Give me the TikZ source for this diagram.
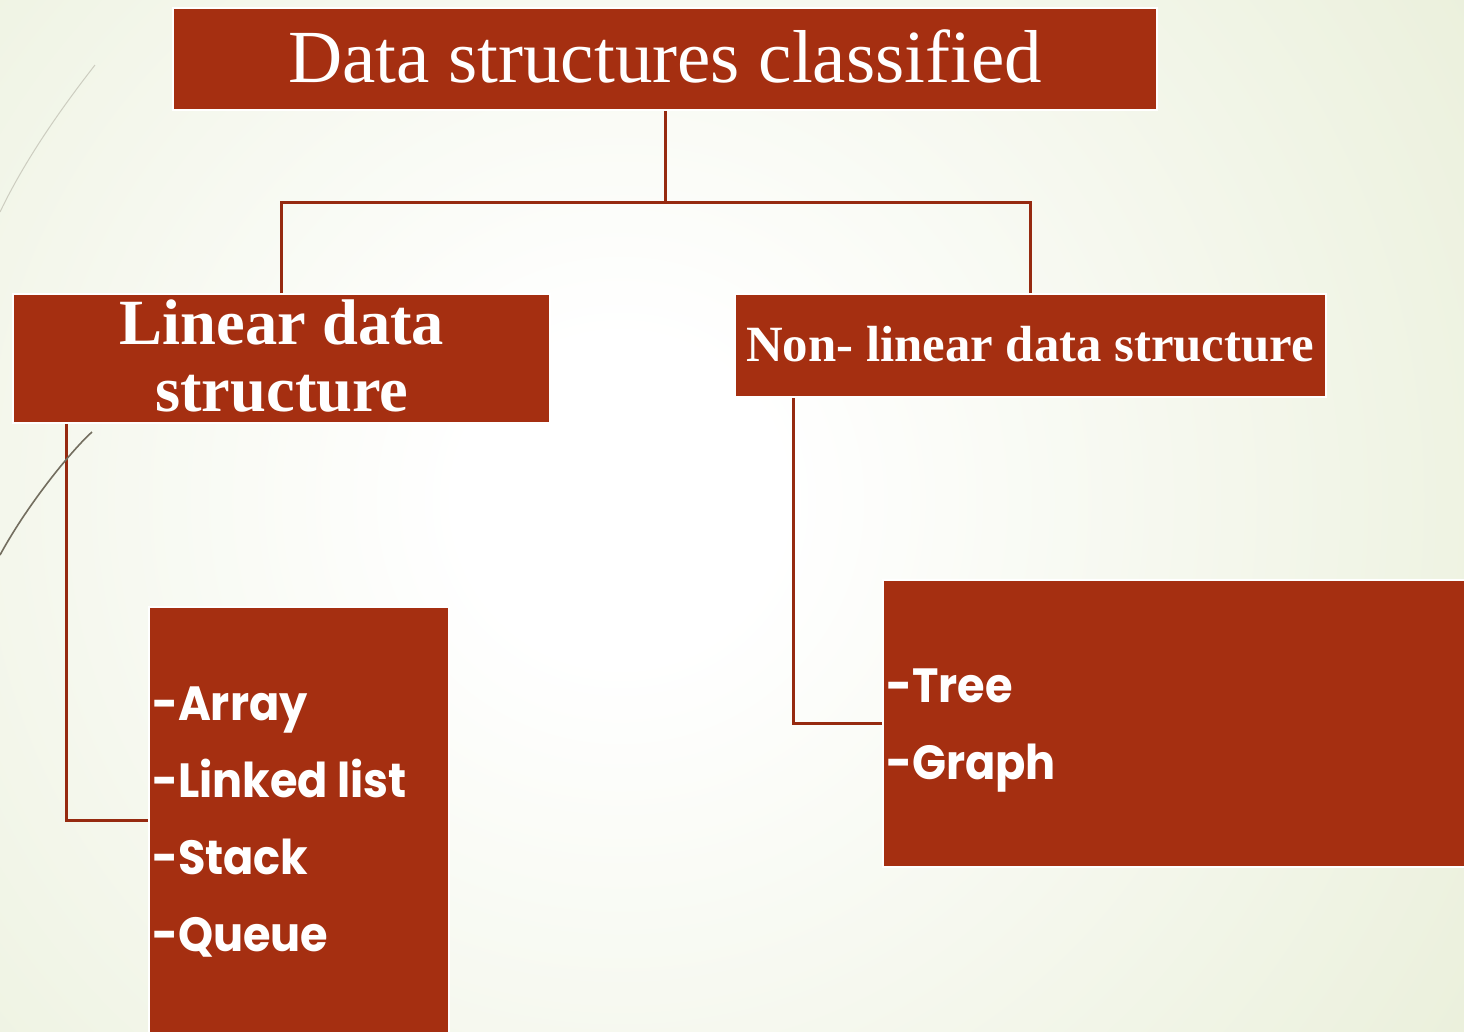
\documentclass[tikz,border=0pt]{standalone}
\usepackage{fontspec}
\setmainfont{Liberation Serif}
\newfontfamily\gothic[FakeStretch=0.93]{Poppins}
\definecolor{boxred}{RGB}{165,47,17}
\definecolor{linkred}{RGB}{150,42,16}
\definecolor{bggreen}{RGB}{228,235,208}
\definecolor{bggreenB}{RGB}{218,228,193}
\definecolor{wispA}{RGB}{205,205,192}
\definecolor{wispB}{RGB}{115,110,95}
\pgfdeclareradialshading{bgshade}{\pgfpoint{0bp}{0bp}}{color(0bp)=(white); color(4bp)=(white); color(32bp)=(bggreen); color(50bp)=(bggreenB)}
\begin{document}
\begin{tikzpicture}[x=1pt,y=-1pt,
  box/.style={draw=white, line width=2pt, fill=boxred, inner sep=0pt},
  link/.style={draw=linkred, line width=3pt},
  ttl/.style={text=white, font=\fontsize{75}{80}\selectfont, anchor=base, inner sep=0pt},
  head/.style={text=white, font=\bfseries\fontsize{64.5}{70}\selectfont, anchor=base, inner sep=0pt},
  subhead/.style={text=white, font=\bfseries\fontsize{50.8}{55}\selectfont, anchor=base, inner sep=0pt},
  item/.style={text=white, font=\gothic\bfseries\fontsize{48}{50}\selectfont, anchor=base west, inner sep=0pt}]
\useasboundingbox (0,0) rectangle (1464,1031);
\begin{scope}
  \clip (0,0) rectangle (1464,1031);
  \shade[shading=bgshade] (620,500) circle (1000);
  \draw[wispA, line width=1pt] (95,65) .. controls (60,110) and (25,160) .. (0,212);
\end{scope}

% boxes
\node[box, minimum width=984pt, minimum height=102pt] (title) at (665,59) {};
\node[box, minimum width=537pt, minimum height=129pt] (linear) at (281.5,358.5) {};
\node[box, minimum width=591pt, minimum height=103pt] (nonlin) at (1030.5,345.5) {};
\node[box, minimum width=300pt, minimum height=437pt] (list) at (298.5,825.5) {};
\node[box, minimum width=591pt, minimum height=287pt] (tree) at (1178.5,723.5) {};

% connectors
\coordinate (split) at (665,202);
\draw[link] (title.south) -- (split);
\draw[link] (linear.north) |- (split) -| (nonlin.north);
\coordinate (lk) at (66,820);
\draw[link] (linear.south -| lk) -- (lk) -- (list.west |- lk);
\coordinate (nk) at (793,723);
\draw[link] (nonlin.south -| nk) -- (nk) -- (tree.west |- nk);

\begin{scope}
  \clip (0,0) rectangle (1464,1031);
  \draw[wispB, line width=1.6pt] (92,432) .. controls (75,447) and (30,500) .. (0,555);
\end{scope}

% texts
\node[ttl] (ttext) at (665,82) {Data structures classified};
\node[head] (lin1) at (282,344) {Linear data};
\node[head] (lin2) at (282,411) {structure};
\node[subhead] (nltext) at (1030,361) {Non- linear data structure};
\node[item] (i1) at (152,720) {-Array};
\node[item] (i2) at (152,797) {-Linked list};
\node[item] (i3) at (152,874) {-Stack};
\node[item] (i4) at (152,951) {-Queue};
\node[item] (i5) at (886,702) {-Tree};
\node[item] (i6) at (886,779) {-Graph};
\end{tikzpicture}
\end{document}
